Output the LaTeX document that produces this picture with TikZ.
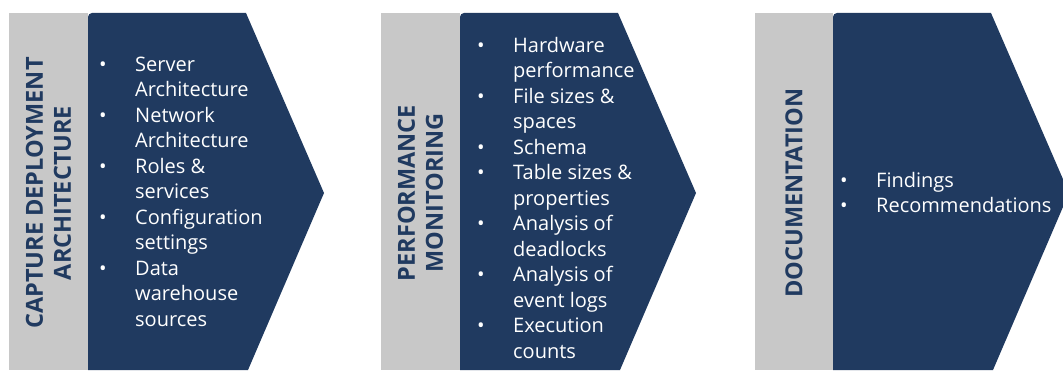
\documentclass[tikz,border=0pt]{standalone}
\usepackage{fontspec}
\setmainfont{Open Sans}
\definecolor{navy}{RGB}{32,58,96}
\definecolor{bargray}{RGB}{200,200,200}
\tikzset{
  stage/.style={fill=navy},
  bar/.style={fill=bargray},
  stagelabel/.style={rotate=90, text=navy, align=center, inner sep=0pt,
    font=\bfseries\fontsize{23.5}{28}\selectfont},
  itemlist/.style={anchor=north west, text=white, inner sep=0pt,
    font=\fontsize{20}{25.5}\selectfont}
}
\newcommand{\bul}{\textbullet}
\begin{document}
\begin{tikzpicture}[x=1pt,y=1pt]
        \useasboundingbox (0,0) rectangle (1063,370);
        \clip (0,0) rectangle (1063,370);

        % stage 1
        \fill[bar] (9,0) rectangle (88,357);
        \fill[stage] (88,0) [rounded corners=4pt] -- (88,357) [sharp corners] -- (246,357) -- (324,177) -- (248,0) -- cycle;
        \node[stagelabel] (capture) at (48.5,177) {CAPTURE DEPLOYMENT\\ARCHITECTURE};
        \node[itemlist] (capturelist) at (99,317) {\begin{tabular}{@{}p{36pt}@{}l@{}}
            \bul & Server\\ & Architecture\\
            \bul & Network\\ & Architecture\\
            \bul & Roles \&\\ & services\\
            \bul & Configuration\\ & settings\\
            \bul & Data\\ & warehouse\\ & sources
        \end{tabular}};

        % stage 2
        \fill[bar] (381,0) rectangle (460,357);
        \fill[stage] (460,0) [rounded corners=4pt] -- (460,357) [sharp corners] -- (618,357) -- (696,177) -- (620,0) -- cycle;
        \node[stagelabel] (performance) at (420.5,177) {PERFORMANCE\\MONITORING};
        \node[itemlist] (performancelist) at (477,336) {\begin{tabular}{@{}p{36pt}@{}l@{}}
            \bul & Hardware\\ & performance\\
            \bul & File sizes \&\\ & spaces\\
            \bul & Schema\\
            \bul & Table sizes \&\\ & properties\\
            \bul & Analysis of\\ & deadlocks\\
            \bul & Analysis of\\ & event logs\\
            \bul & Execution\\ & counts
        \end{tabular}};

        % stage 3
        \fill[bar] (755,0) rectangle (833,357);
        \fill[stage] (833,0) [rounded corners=4pt] -- (833,357) [sharp corners] -- (991,357) -- (1069,177) -- (993,0) -- cycle;
        \node[stagelabel] (documentation) at (794,177) {DOCUMENTATION};
        \node[itemlist] (documentationlist) at (840,201) {\begin{tabular}{@{}p{36pt}@{}l@{}}
            \bul & Findings\\
            \bul & Recommendations
        \end{tabular}};

    \end{tikzpicture}
\end{document}
